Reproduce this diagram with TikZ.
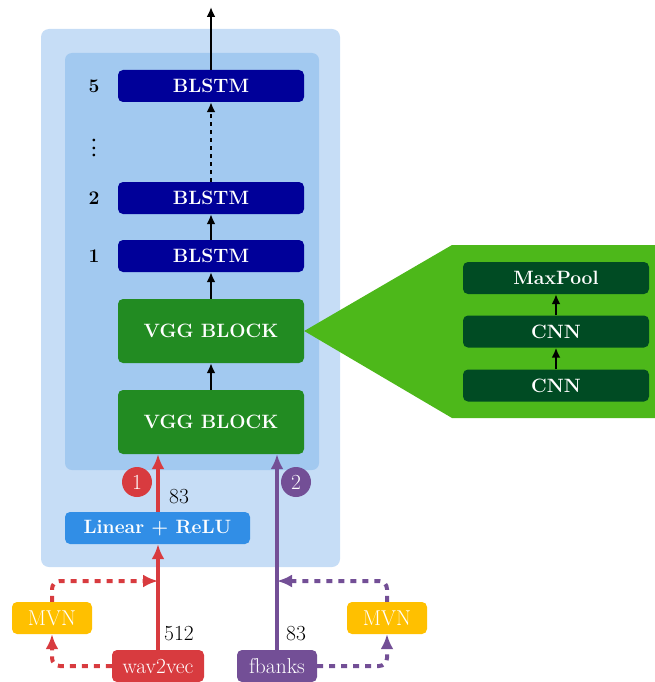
\documentclass[tikz,border=0pt]{standalone}
\usetikzlibrary{arrows.meta}
\definecolor{outerc}{HTML}{C6DDF6}
\definecolor{innerc}{HTML}{A2C9F0}
\definecolor{blstmc}{HTML}{000099}
\definecolor{vggc}{HTML}{228B22}
\definecolor{linc}{HTML}{318EE6}
\definecolor{redc}{HTML}{D83B3F}
\definecolor{purc}{HTML}{734F96}
\definecolor{mvnc}{HTML}{FFC000}
\definecolor{callc}{HTML}{4DB81A}
\definecolor{dgreen}{HTML}{004B23}
\begin{document}
\begin{tikzpicture}[x=1pt,y=-1pt,
  bfnt/.style={font=\fontsize{19.3}{22}\selectfont\bfseries},
  rfnt/.style={font=\fontsize{21.5}{24}\selectfont},
  box/.style={rounded corners=5pt, text=white, bfnt, minimum width=186pt, minimum height=32pt, inner sep=0pt},
  bigbox/.style={box, minimum height=64pt},
  smallbox/.style={rounded corners=5pt, text=white, rfnt, minimum height=32pt, inner sep=0pt},
  blarrow/.style={line width=2pt, -{Latex[length=10pt,width=9pt]}},
  redline/.style={line width=4pt, redc, -{Latex[length=15pt,width=13pt]}},
  purline/.style={line width=4pt, purc, -{Latex[length=15pt,width=13pt]}},
  reddot/.style={line width=4pt, redc, dash pattern=on 6pt off 6pt, rounded corners=8pt, -{Latex[length=15pt,width=13pt]}},
  purdot/.style={line width=4pt, purc, dash pattern=on 6pt off 6pt, rounded corners=8pt, -{Latex[length=15pt,width=13pt]}},
  numlab/.style={bfnt, text=black},
  circ/.style={circle, minimum size=30pt, inner sep=0pt, text=white, rfnt}
]
\useasboundingbox (0,0) rectangle (655,682);
% background boxes
\fill[outerc, rounded corners=8pt] (41,29) rectangle (340,567);
\fill[innerc, rounded corners=7pt] (65,53) rectangle (319,470);

% main stack
\node[box, fill=blstmc] (b5) at (211,86) {BLSTM};
\node[box, fill=blstmc] (b2) at (211,198) {BLSTM};
\node[box, fill=blstmc] (b1) at (211,256) {BLSTM};
\node[bigbox, fill=vggc] (vgg2) at (211,331) {VGG BLOCK};
\node[bigbox, fill=vggc] (vgg1) at (211,422) {VGG BLOCK};

\node[numlab] (n5) at (94,86) {5};
\node[numlab, inner sep=0pt] (ndots) at (94,148) {\rotatebox{90}{.\kern1.3pt.\kern1.3pt.}};
\node[numlab] (n2) at (94,198) {2};
\node[numlab] (n1) at (94,256) {1};

\coordinate (out) at (211,7);
\draw[blarrow] (b5.north) -- (out);
\draw[blarrow, dash pattern=on 4pt off 4pt] (b2.north) -- (b5.south);
\draw[blarrow] (b1.north) -- (b2.south);
\draw[blarrow] (vgg2.north) -- (b1.south);
\draw[blarrow] (vgg1.north) -- (vgg2.south);

% callout
\fill[callc] (vgg2.east) -- (452,245) -- (655,245) -- (655,418) -- (452,418) -- cycle;
\node[box, fill=dgreen] (mp) at (556,278) {MaxPool};
\node[box, fill=dgreen] (cnn2) at (556,331.5) {CNN};
\node[box, fill=dgreen] (cnn1) at (556,385.5) {CNN};
\draw[blarrow] (cnn1.north) -- (cnn2.south);
\draw[blarrow] (cnn2.north) -- (mp.south);

% inputs
\node[box, fill=linc, minimum width=185pt] (lin) at (157.5,528) {Linear + ReLU};
\node[smallbox, fill=redc, minimum width=92pt] (wav) at (158,666) {wav2vec};
\node[smallbox, fill=purc, minimum width=80pt] (fb) at (277,666) {fbanks};
\node[smallbox, fill=mvnc, minimum width=80pt] (mvnL) at (52,618) {MVN};
\node[smallbox, fill=mvnc, minimum width=80pt] (mvnR) at (387,618) {MVN};

\draw[redline] (wav.north) -- (wav.north |- lin.south);
\draw[redline] (wav.north |- lin.north) -- (wav.north |- vgg1.south);
\draw[purline] (fb.north) -- (fb.north |- vgg1.south);

\coordinate (rj) at (158,581);
\coordinate (pj) at (277,581);
\draw[reddot] (wav.west) -| (mvnL.south);
\draw[reddot] (mvnL.north) |- (rj);
\draw[purdot] (fb.east) -| (mvnR.south);
\draw[purdot] (mvnR.north) |- (pj);

\node[circ, fill=redc] (c1) at (137,482) {1};
\node[circ, fill=purc] (c2) at (296,482) {2};

\node[rfnt] (l83a) at (179,497) {83};
\node[rfnt] (l512) at (179,634) {512};
\node[rfnt] (l83b) at (296,634) {83};
\end{tikzpicture}
\end{document}
